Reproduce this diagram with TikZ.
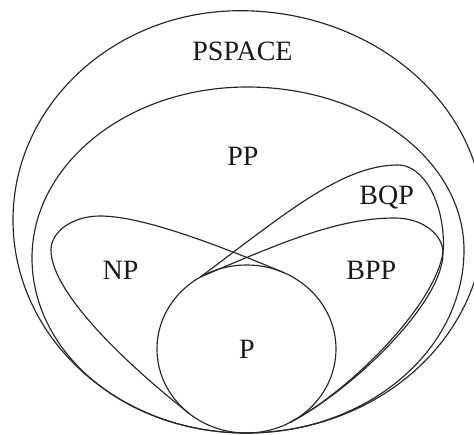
\documentclass[tikz,border=0pt]{standalone}
\usepackage{fontspec}
\setmainfont{Liberation Serif}
\begin{document}
\begin{tikzpicture}[x=1pt,y=-1pt,
  region/.style={draw=black!85, line width=1.15pt},
  lbl/.style={font=\fontsize{28}{30}\selectfont, anchor=base, inner sep=0pt, text=black!90}]
\useasboundingbox (0,0) rectangle (474,434);
\clip (0,0) rectangle (474,434);
% PSPACE
\draw[region] (246,433) .. controls (117.4,433) and (13,337.6) .. (13,220)
  .. controls (13,104.6) and (114.7,10.7) .. (240,10.7)
  .. controls (374.7,10.7) and (484,105.4) .. (484,222)
  .. controls (484,338.5) and (377.4,433) .. (246,433) -- cycle;
% PP
\draw[region] (246,433) .. controls (127.9,433) and (32,354.6) .. (32,258)
  .. controls (32,163.6) and (128.3,87) .. (247,87)
  .. controls (366.8,87) and (464,160) .. (464,250)
  .. controls (464,351) and (366.3,433) .. (246,433) -- cycle;
% NP
\draw[region] (189,413.3) .. controls (118.3,357.6) and (51,290) .. (51,250)
  .. controls (51,231.2) and (73,216) .. (100,216)
  .. controls (140,216) and (209.2,241.4) .. (283,272.3);
% BPP
\draw[region] (200.4,277) .. controls (283.3,241.8) and (338,218) .. (395,218)
  .. controls (421.5,218) and (443,233.7) .. (443,253)
  .. controls (443,303) and (352.1,390.1) .. (290,422.4);
% BQP
\draw[region] (200.4,277) .. controls (288.4,211) and (343,165) .. (398,165)
  .. controls (423,165) and (443.5,201) .. (443.5,245)
  .. controls (443.5,297) and (352.1,390.1) .. (290,422.4);
% P
\draw[region] (246.5,349) ellipse [x radius=89.5pt, y radius=84pt];
\node[lbl] (pspace) at (242.5,60.7) {PSPACE};
\node[lbl] (pp) at (243,165) {PP};
\node[lbl] (bqp) at (386.7,204) {BQP};
\node[lbl] (np) at (120.5,279) {NP};
\node[lbl] (bpp) at (371.3,279) {BPP};
\node[lbl] (p) at (247,358) {P};
\end{tikzpicture}
\end{document}
